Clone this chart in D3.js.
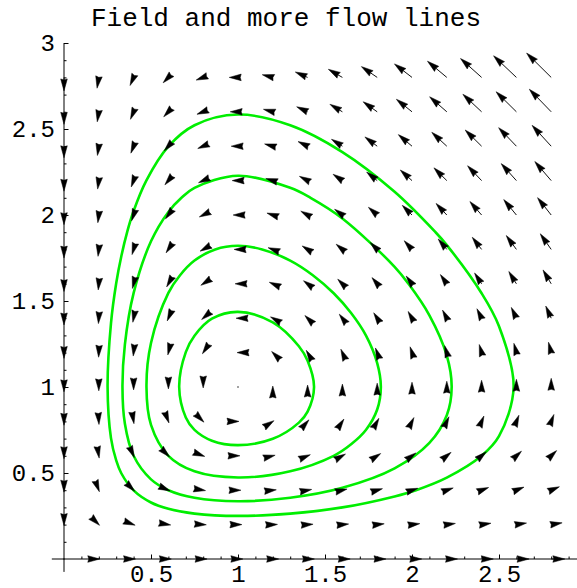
<!DOCTYPE html>
<html>
<head>
<meta charset="utf-8">
<script src="https://cdn.jsdelivr.net/npm/d3@7"></script>
<style>
  body { margin: 0; background: #fff; }
  svg { display: block; }
  .tick text, .title { font-family: "Liberation Mono", "DejaVu Sans Mono", monospace; fill: #000; }
  .flow { fill: none; stroke: #00ee00; stroke-width: 2.6; }
  .shaft { stroke: #111; stroke-width: 1; }
  .head { fill: #000; stroke: #000; stroke-width: 0.5; stroke-linejoin: round; }
</style>
</head>
<body>
<svg width="577" height="588"></svg>
<script>
// grid of the field (15 x 15 points)
const gridX = [0, 0.2, 0.4, 0.6, 0.8, 1, 1.2, 1.4, 1.6, 1.8, 2, 2.2, 2.4, 2.6, 2.8];
const gridY = [0, 0.2, 0.4, 0.6, 0.8, 1, 1.2, 1.4, 1.6, 1.8, 2, 2.2, 2.4, 2.6, 2.8];

// the field plotted: x' = x (1 - y), y' = y (x - 1)
const field = (x, y) => [x * (1 - y), y * (x - 1)];

// flow lines
const flow1 = [[0.662,1],[0.7,0.823],[0.75,0.751],[0.85,0.688],[1,0.662],[1.2,0.699],[1.35,0.793],[1.4,0.857],
  [1.437,1],[1.4,1.152],[1.35,1.237],[1.2,1.376],[1,1.437],[0.85,1.397],[0.75,1.298],[0.7,1.203]];
const flow2 = [[0.474,1],[0.5,0.78],[0.6,0.6],[0.75,0.51],[1,0.474],[1.3,0.51],[1.55,0.6],[1.65,0.667],[1.735,0.75],
  [1.8,0.869],[1.821,1],[1.8,1.139],[1.735,1.3],[1.65,1.43],[1.55,1.545],[1.43,1.65],[1.3,1.735],[1.139,1.8],[1,1.821],
  [0.869,1.8],[0.75,1.735],[0.667,1.65],[0.6,1.547],[0.5,1.256]];
const flow3 = [[0.336,1],[0.35,0.786],[0.4,0.6],[0.5,0.463],[0.6,0.4],[0.75,0.356],[1,0.336],[1.3,0.356],[1.6,0.414],
  [1.9,0.527],[2.1,0.675],[2.2,0.836],[2.228,1],[2.2,1.183],[2.1,1.417],[1.98,1.6],[1.9,1.699],[1.6,1.98],[1.417,2.1],
  [1.3,2.158],[1,2.228],[0.75,2.158],[0.675,2.1],[0.6,2.018],[0.5,1.847],[0.4,1.546],[0.35,1.248]];
const flow4 = [[0.2505,1],[0.27,0.703],[0.3,0.573],[0.3285,0.5],[0.4,0.399],[0.5,0.3285],[0.6,0.292],[0.75,0.264],
  [1,0.2505],[1.3,0.264],[1.6,0.3],[1.9,0.364],[2.023,0.4],[2.2,0.473],[2.4,0.6],[2.5,0.714],[2.584,1],[2.5,1.353],
  [2.4,1.545],[2.2,1.825],[2.135,1.9],[1.9,2.135],[1.6,2.366],[1.3,2.522],[1,2.584],[0.75,2.522],[0.6,2.399],
  [0.473,2.2],[0.4,2.023],[0.364,1.905],[0.33,1.763],[0.3,1.603],[0.27,1.37]];
const flows = [flow1, flow2, flow3, flow4];

const xTicks = [0.5, 1, 1.5, 2, 2.5];
const yTicks = [0.5, 1, 1.5, 2, 2.5, 3];
const minorTicks = d3.range(1, 30).map((i) => i / 10);

const xScale = d3.scaleLinear().domain([0, 1]).range([64, 238]);
const yScale = d3.scaleLinear().domain([0, 1]).range([559, 387]);

const svg = d3.select("svg");

svg.append("text")
    .attr("class", "title")
    .attr("x", 286)
    .attr("y", 26)
    .attr("text-anchor", "middle")
    .style("font-size", "26px")
    .text("Field and more flow lines");

// axes
const gx = svg.append("g").attr("transform", `translate(0,${yScale(0)})`);
gx.append("line")
    .attr("x1", xScale(-0.07)).attr("x2", 577)
    .attr("stroke", "#000");
gx.append("g")
    .call(d3.axisBottom(xScale).tickValues(minorTicks.filter((t) => t < 2.95)).tickSize(-2.5).tickFormat(""))
    .call((g) => g.select(".domain").remove());
gx.append("g")
    .call(d3.axisBottom(xScale).tickValues(xTicks).tickSize(-4.5).tickPadding(6).tickFormat((d) => d))
    .call((g) => g.select(".domain").remove())
    .selectAll("text").style("font-size", "24px");

const gy = svg.append("g").attr("transform", `translate(${xScale(0)},0)`);
gy.append("line")
    .attr("y1", yScale(-0.075)).attr("y2", yScale(3))
    .attr("stroke", "#000");
gy.append("g")
    .call(d3.axisLeft(yScale).tickValues(minorTicks).tickSize(-2.5).tickFormat(""))
    .call((g) => g.select(".domain").remove());
gy.append("g")
    .call(d3.axisLeft(yScale).tickValues(yTicks).tickSize(-4.5).tickPadding(9).tickFormat((d) => d))
    .call((g) => g.select(".domain").remove())
    .selectAll("text").style("font-size", "24px");

svg.selectAll(".tick line").attr("stroke", "#000");

// flow lines
const lineFunction = d3.line()
    .x((d) => xScale(d[0]))
    .y((d) => yScale(d[1]))
    .curve(d3.curveCatmullRomClosed.alpha(0.5));

svg.selectAll(".flow")
    .data(flows)
    .enter().append("path")
    .attr("class", "flow")
    .attr("d", lineFunction);

// vector field
const arrows = [];
gridX.forEach((x) => gridY.forEach((y) => {
    const [u, v] = field(x, y);
    arrows.push({ x, y, u, v, m: Math.hypot(u, v) });
}));
const scaleFactor = 0.2 / d3.max(arrows, (d) => d.m);

const headLen = 12, headHalf = 3.3;
arrows.forEach((d) => {
    d.x0 = xScale(d.x);
    d.y0 = yScale(d.y);
    d.x1 = xScale(d.x + scaleFactor * d.u);
    d.y1 = yScale(d.y + scaleFactor * d.v);
    const dx = xScale(d.u) - xScale(0), dy = yScale(d.v) - yScale(0);
    const len = Math.hypot(dx, dy) || 1;
    d.ux = dx / len;
    d.uy = dy / len;
    d.len = Math.hypot(d.x1 - d.x0, d.y1 - d.y0);
});

const fieldLayer = svg.append("g");

fieldLayer.selectAll(".shaft")
    .data(arrows.filter((d) => d.len > headLen))
    .enter().append("line")
    .attr("class", "shaft")
    .attr("x1", (d) => d.x0)
    .attr("y1", (d) => d.y0)
    .attr("x2", (d) => d.x1 - d.ux * (headLen - 2))
    .attr("y2", (d) => d.y1 - d.uy * (headLen - 2));

fieldLayer.selectAll(".head")
    .data(arrows.filter((d) => d.m > 0))
    .enter().append("path")
    .attr("class", "head")
    .attr("d", (d) => {
        const bx = d.x1 - d.ux * headLen, by = d.y1 - d.uy * headLen;
        const nx = d.x1 - d.ux * (headLen - 1), ny = d.y1 - d.uy * (headLen - 1);
        const px = -d.uy * headHalf, py = d.ux * headHalf;
        return `M${d.x1},${d.y1}L${bx + px},${by + py}L${nx},${ny}L${bx - px},${by - py}Z`;
    });

fieldLayer.selectAll(".still")
    .data(arrows.filter((d) => d.m === 0))
    .enter().append("circle")
    .attr("class", "still")
    .attr("cx", (d) => d.x0)
    .attr("cy", (d) => d.y0)
    .attr("r", 0.7)
    .attr("fill", "#000");
</script>
</body>
</html>
